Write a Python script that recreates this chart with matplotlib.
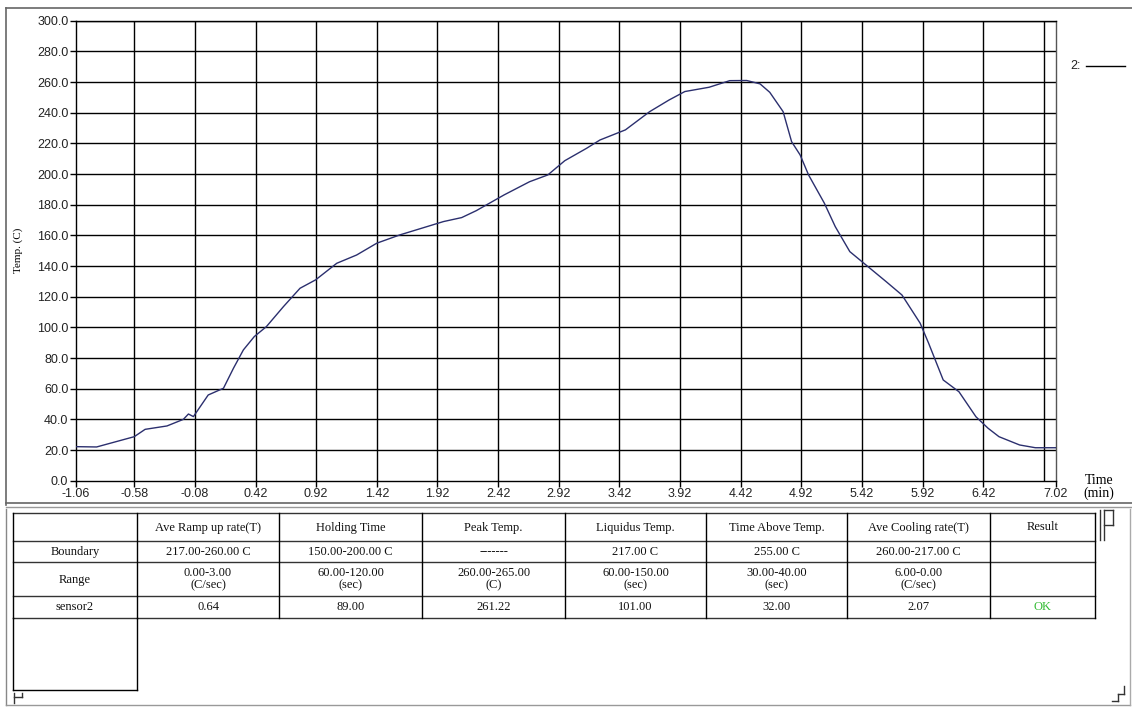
import matplotlib
matplotlib.use("Agg")
import matplotlib.pyplot as plt
from matplotlib.lines import Line2D
import numpy as np

# ---- data ----
time_min = [-1.06, -0.89, -0.58, -0.49, -0.31, -0.175, -0.133, -0.092, 0.03, 0.156,
            0.238, 0.32, 0.41, 0.51, 0.65, 0.787, 0.916, 1.09, 1.254, 1.42,
            1.61, 1.97, 2.12, 2.24, 2.47, 2.68, 2.83, 2.97, 3.15, 3.26,
            3.47, 3.67, 3.83, 3.96, 4.16, 4.33, 4.47, 4.58, 4.66, 4.77,
            4.84, 4.91, 4.98, 5.11, 5.2, 5.32, 5.47, 5.62, 5.75, 5.9,
            5.97, 6.09, 6.22, 6.36, 6.46, 6.55, 6.72, 6.85, 7.02]
temp_c = [22.2, 22.0, 28.7, 33.5, 35.7, 40.0, 43.5, 41.8, 55.9, 60.3,
          73.3, 85.3, 94.0, 100.5, 113.5, 125.5, 131.0, 141.8, 147.2, 154.9,
          160.3, 169.0, 171.6, 176.1, 186.4, 195.0, 199.4, 208.7, 216.8, 222.2,
          228.8, 240.7, 248.3, 253.8, 256.6, 260.9, 261.0, 258.8, 253.3, 240.7,
          221.1, 212.5, 199.4, 181.0, 165.7, 149.4, 139.6, 129.8, 121.1, 102.7,
          89.6, 65.7, 58.0, 41.7, 34.2, 28.7, 23.3, 21.5, 21.5]

x_tick_labels = ["-1.06", "-0.58", "-0.08", "0.42", "0.92", "1.42", "1.92", "2.42", "2.92",
                 "3.42", "3.92", "4.42", "4.92", "5.42", "5.92", "6.42", "7.02"]
x_grid = [-0.58, -0.08, 0.42, 0.92, 1.42, 1.92, 2.42, 2.92, 3.42, 3.92, 4.42, 4.92,
          5.42, 5.92, 6.42, 6.92]
y_ticks = list(range(0, 301, 20))

table_header = ["", "Ave Ramp up rate(T)", "Holding Time", "Peak Temp.", "Liquidus Temp.",
                "Time Above Temp.", "Ave Cooling rate(T)", "Result"]
row_boundary = ["Boundary", "217.00-260.00 C", "150.00-200.00 C", "-------", "217.00 C",
                "255.00 C", "260.00-217.00 C", ""]
row_range = ["Range", "0.00-3.00\n(C/sec)", "60.00-120.00\n(sec)", "260.00-265.00\n(C)",
             "60.00-150.00\n(sec)", "30.00-40.00\n(sec)", "6.00-0.00\n(C/sec)", ""]
row_sensor = ["sensor2", "0.64", "89.00", "261.22", "101.00", "32.00", "2.07", "OK"]

W, H = 1132, 708
fig = plt.figure(figsize=(W / 100, H / 100), dpi=100)

def fx(px):
    return px / W

def fy(py):
    return 1 - py / H

# ---- main chart ----
ax_l, ax_r, ax_t, ax_b = 76, 1056, 20.7, 480.7
ax = fig.add_axes([fx(ax_l), fy(ax_b), fx(ax_r - ax_l), (ax_b - ax_t) / H])
ax.set_xlim(-1.06, 7.02)
ax.set_ylim(0, 300)
for g in x_grid:
    ax.axvline(g, color="black", lw=1.0, zorder=1)
for yv in y_ticks[1:]:
    ax.axhline(yv, color="black", lw=1.0, zorder=1)
ax.plot(time_min, temp_c, color="#2b2f6e", lw=1.0, zorder=3)

x_tick_pos = [float(s) for s in x_tick_labels]
ax.set_xticks(x_tick_pos)
ax.set_xticklabels(x_tick_labels)
ax.set_yticks(y_ticks)
ax.set_yticklabels([f"{v:.1f}" for v in y_ticks])
ax.tick_params(axis="both", direction="out", length=4, width=1, color="black",
               labelsize=9, pad=1.5)
for lab in ax.get_xticklabels() + ax.get_yticklabels():
    lab.set_fontfamily("Liberation Sans")
    lab.set_color("#222222")
for s in ax.spines.values():
    s.set_color("black")
    s.set_linewidth(1.0)
ax.spines["right"].set_color("#555555")

ax.set_ylabel("Temp. (C)", fontsize=8, family="Liberation Serif", labelpad=10)
fig.text(fx(1099), fy(487), "Time\n(min)", ha="center", va="center",
         fontsize=10, family="Liberation Serif", linespacing=0.95)

# ---- overlay for frames, legend and table ----
ov = fig.add_axes([0, 0, 1, 1], zorder=5)
ov.set_xlim(0, W)
ov.set_ylim(H, 0)
ov.axis("off")
ov.patch.set_alpha(0)

def seg(x0, y0, x1, y1, c="black", lw=1.0):
    ov.add_line(Line2D([x0, x1], [y0, y1], color=c, lw=lw))

# outer panel frames
seg(6, 8, W, 8, "#666666", 1.2)
seg(6, 8, 6, 505, "#666666", 1.2)
seg(6, 503, W, 503, "#666666", 1.2)
seg(6, 506.5, W, 506.5, "#999999", 1.0)
seg(6, 509, 6, 705, "#888888", 1.0)
seg(6, 705, 1130, 705, "#999999", 1.0)
seg(1130, 509, 1130, 705, "#aaaaaa", 1.0)

# legend "2: ----"
ov.text(1070, 66, "2:", fontsize=9, family="Liberation Sans", va="center", ha="left",
        color="#222222")
seg(1086, 66, 1125, 66, "black", 1.0)

# table
col_x = [13, 137, 279, 422, 565, 706, 847, 990, 1095]
row_y = [513, 541, 562, 596, 618]
rows = [table_header, row_boundary, row_range, row_sensor]
for yv in row_y:
    seg(col_x[0], yv, col_x[-1], yv, "#333333", 1.0)
for xv in col_x:
    seg(xv, row_y[0], xv, row_y[-1], "black", 1.0)
# empty cell under sensor2 row
seg(col_x[0], row_y[-1], col_x[0], 690, "black", 1.0)
seg(col_x[1], row_y[-1], col_x[1], 690, "black", 1.0)
seg(col_x[0], 690, col_x[1], 690, "black", 1.0)

for r, row in enumerate(rows):
    yc = (row_y[r] + row_y[r + 1]) / 2
    for c, txt in enumerate(row):
        if not txt:
            continue
        xc = (col_x[c] + col_x[c + 1]) / 2
        color = "#33bb33" if txt == "OK" else "#111111"
        ov.text(xc, yc + 0.5, txt, ha="center", va="center", fontsize=9,
                family="Liberation Serif", color=color, linespacing=1.05)

# small corner marks
seg(1100, 510, 1100, 540, "#333333", 1.0)
seg(1104, 510, 1104, 540, "#333333", 1.0)
seg(1104, 510, 1113, 510, "#333333", 1.0)
seg(1104, 525, 1113, 525, "#333333", 1.0)
seg(1113, 510, 1113, 525, "#333333", 1.0)
seg(14, 693, 14, 703, "#333333", 1.0)
seg(14, 697, 22, 697, "#333333", 1.0)
seg(22, 693, 22, 697, "#333333", 1.0)
seg(1112, 701, 1118, 701, "#333333", 1.0)
seg(1118, 701, 1118, 694, "#333333", 1.0)
seg(1118, 694, 1124, 694, "#333333", 1.0)
seg(1124, 694, 1124, 686, "#333333", 1.0)

fig.savefig("out.png", dpi=100)
